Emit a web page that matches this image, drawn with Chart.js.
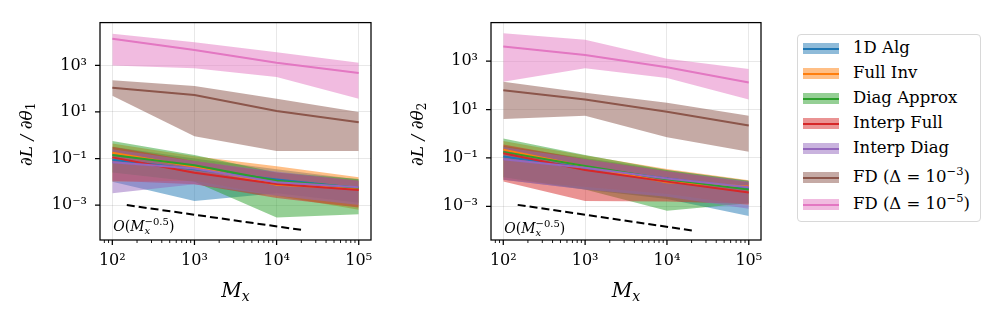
<!DOCTYPE html>
<html>
<head>
<meta charset="utf-8">
<script src="https://cdn.jsdelivr.net/npm/chart.js@4.4.1/dist/chart.umd.min.js"></script>
<style>
  body { margin: 0; background: #fff; font-family: 'DejaVu Serif', serif; }
  #wrap { position: relative; width: 996px; height: 319px; overflow: hidden; }
  .panel { position: absolute; top: 0; width: 380px; height: 319px; }
  #legend { position: absolute; left: 797px; top: 34px; width: 184px; height: 188px;
    border: 1px solid #d8d8d8; border-radius: 4px; box-sizing: border-box; }
  .row { position: absolute; left: 0; height: 26px; width: 180px; font-size: 16.5px; color: #000; }
  .patch { position: absolute; left: 5px; width: 36px; height: 11px; }
  .patch i { position: absolute; left: 0; right: 0; top: 4.5px; height: 2px; }
  .lab { position: absolute; left: 55px; white-space: nowrap; line-height: 18px; }
  .lab sup { font-size: 11.5px; vertical-align: 7px; line-height: 0; }
</style>
</head>
<body>
<div id="wrap">
  <div class="panel" style="left:0"><canvas id="c1"></canvas></div>
  <div class="panel" style="left:391px"><canvas id="c2"></canvas></div>
  <div id="legend"></div>
</div>
<script>
// sample sizes M_x
const mx = [1e2, 1e3, 1e4, 1e5];
const names = ['1D Alg', 'Full Inv', 'Diag Approx', 'Interp Full', 'Interp Diag',
  'FD (Δ = 10<sup>−3</sup>)', 'FD (Δ = 10<sup>−5</sup>)'];
const colors = ['#1f77b4', '#ff7f0e', '#2ca02c', '#d62728', '#9467bd', '#8c564b', '#e377c2'];

// dL/dtheta_1 : median line, lower and upper band (rows follow names)
const mean1 = [
  [0.089, 0.035, 0.0126, 0.0054],
  [0.178, 0.044, 0.0074, 0.005],
  [0.141, 0.051, 0.0112, 0.0056],
  [0.112, 0.0245, 0.0081, 0.0044],
  [0.069, 0.037, 0.0095, 0.0059],
  [110, 54, 11, 3.6],
  [14000, 4600, 1300, 470]
];
const lo1 = [
  [0.010, 0.0015, 0.0032, 0.00126],
  [0.010, 0.0112, 0.0025, 0.00063],
  [0.025, 0.010, 0.00029, 0.0004],
  [0.0112, 0.0079, 0.002, 0.00079],
  [0.0032, 0.0079, 0.0025, 0.001],
  [50, 0.9, 0.21, 0.21],
  [1000, 760, 320, 37]
];
const hi1 = [
  [0.32, 0.10, 0.035, 0.0126],
  [0.44, 0.126, 0.047, 0.0155],
  [0.56, 0.141, 0.025, 0.0132],
  [0.32, 0.079, 0.025, 0.0112],
  [0.25, 0.079, 0.028, 0.0112],
  [230, 130, 37, 10],
  [23000, 10000, 3700, 1300]
];

// dL/dtheta_2
const mean2 = [
  [0.115, 0.039, 0.0141, 0.0056],
  [0.22, 0.044, 0.010, 0.0066],
  [0.178, 0.046, 0.0132, 0.0049],
  [0.155, 0.032, 0.0105, 0.0037],
  [0.089, 0.039, 0.0141, 0.0062],
  [63, 26, 8.1, 2.2],
  [4000, 1800, 560, 130]
];
const lo2 = [
  [0.0126, 0.005, 0.002, 0.0004],
  [0.0126, 0.0063, 0.0032, 0.0011],
  [0.0158, 0.005, 0.00066, 0.00135],
  [0.0105, 0.00166, 0.00158, 0.00126],
  [0.0126, 0.005, 0.0025, 0.00079],
  [4.1, 5.5, 0.71, 0.18],
  [140, 510, 200, 26]
];
const hi2 = [
  [0.32, 0.10, 0.032, 0.0112],
  [0.50, 0.126, 0.035, 0.012],
  [0.63, 0.132, 0.032, 0.0115],
  [0.355, 0.089, 0.028, 0.010],
  [0.28, 0.089, 0.028, 0.0105],
  [140, 49, 19, 5.5],
  [14000, 7600, 1260, 470]
];

// O(M_x^-0.5) reference line
const guideX = [150, 21000];
const guide1 = [1.0e-3, 8.4e-5];
const guide2 = [1.15e-3, 9.9e-5];
const noteAt = [100, 1.32e-4];

// axes
const xRange = [70.8, 141000];
const yRange1 = [3.16e-5, 69000];
const yRange2 = [4.07e-5, 38900];
const xMajor = [1e2, 1e3, 1e4, 1e5];
const xTickLabels = ['10²', '10³', '10⁴', '10⁵'];
const xMinor = [80, 90, 200, 300, 400, 500, 600, 700, 800, 900,
  2000, 3000, 4000, 5000, 6000, 7000, 8000, 9000,
  20000, 30000, 40000, 50000, 60000, 70000, 80000, 90000];
const yMajor = [1e-3, 1e-1, 1e1, 1e3];
const yTickLabels = ['10⁻³', '10⁻¹', '10¹', '10³'];

function rgba(hex, a) {
  const n = parseInt(hex.slice(1), 16);
  return `rgba(${n >> 16},${(n >> 8) & 255},${n & 255},${a})`;
}
const pts = row => mx.map((x, j) => ({ x, y: row[j] }));

const frame = {
  id: 'frame',
  afterDraw(chart, args, opts) {
    const { ctx, chartArea: a, scales: { x, y } } = chart;
    ctx.save();
    ctx.strokeStyle = '#000';
    ctx.lineWidth = 1.25;
    ctx.strokeRect(a.left, a.top, a.right - a.left, a.bottom - a.top);
    ctx.beginPath();
    xMajor.forEach(v => { const p = x.getPixelForValue(v); ctx.moveTo(p, a.bottom); ctx.lineTo(p, a.bottom + 5); });
    yMajor.forEach(v => { const p = y.getPixelForValue(v); ctx.moveTo(a.left, p); ctx.lineTo(a.left - 5, p); });
    ctx.stroke();
    ctx.lineWidth = 0.9;
    ctx.beginPath();
    xMinor.forEach(v => { const p = x.getPixelForValue(v); ctx.moveTo(p, a.bottom); ctx.lineTo(p, a.bottom + 3); });
    ctx.stroke();

    ctx.fillStyle = '#000';
    ctx.textBaseline = 'alphabetic';
    // note
    let nx = x.getPixelForValue(noteAt[0]) + 1;
    const ny = y.getPixelForValue(noteAt[1]) + 5;
    const seg = (t, f, dy) => { ctx.font = f; ctx.fillText(t, nx, ny + dy); return ctx.measureText(t).width; };
    nx += seg('O', 'italic 14px "DejaVu Serif"', 0);
    nx += seg('(', '14px "DejaVu Serif"', 0);
    nx += seg('M', 'italic 14px "DejaVu Serif"', 0);
    const sx = nx;
    seg('x', 'italic 10px "DejaVu Serif"', 3);
    nx = sx + seg('−0.5', '10px "DejaVu Serif"', -6);
    seg(')', '14px "DejaVu Serif"', 0);

    // x title
    ctx.font = 'italic 20px "DejaVu Serif"';
    const mw = ctx.measureText('M').width;
    ctx.font = 'italic 14px "DejaVu Serif"';
    const xw = ctx.measureText('x').width;
    let tx = (a.left + a.right) / 2 - (mw + xw) / 2;
    ctx.font = 'italic 20px "DejaVu Serif"';
    ctx.fillText('M', tx, 297);
    ctx.font = 'italic 14px "DejaVu Serif"';
    ctx.fillText('x', tx + mw, 301);

    // y title
    ctx.translate(32, (a.top + a.bottom) / 2 + 3);
    ctx.rotate(-Math.PI / 2);
    ctx.font = 'italic 17px "DejaVu Serif"';
    const main = '∂L / ∂θ';
    const w1 = ctx.measureText(main).width;
    ctx.font = '12px "DejaVu Serif"';
    const w2 = ctx.measureText(opts.sub).width;
    ctx.font = 'italic 17px "DejaVu Serif"';
    ctx.fillText(main, -(w1 + w2) / 2, 0);
    ctx.font = '12px "DejaVu Serif"';
    ctx.fillText(opts.sub, -(w1 + w2) / 2 + w1, 3);
    ctx.restore();
  }
};

function makePanel(id, means, los, his, guide, yRange, sub, padRight) {
  const datasets = [{
    data: guideX.map((x, j) => ({ x, y: guide[j] })),
    borderColor: '#000', borderWidth: 2, borderDash: [8, 4], pointRadius: 0, fill: false
  }];
  for (let i = names.length - 1; i >= 0; i--) {
    datasets.push({ data: pts(his[i]), borderColor: 'transparent', borderWidth: 0, pointRadius: 0, fill: false });
    datasets.push({ data: pts(los[i]), borderColor: 'transparent', borderWidth: 0, pointRadius: 0,
      fill: '-1', backgroundColor: rgba(colors[i], 0.5) });
    datasets.push({ data: pts(means[i]), borderColor: colors[i], borderWidth: 2, pointRadius: 0, fill: false });
  }
  const gridColor = c => (c.tick && c.tick.major) ? 'rgba(0,0,0,0.09)' : 'rgba(0,0,0,0)';
  return new Chart(document.getElementById(id), {
    type: 'line',
    data: { datasets },
    options: {
      responsive: true, maintainAspectRatio: false, animation: false,
      layout: { padding: { left: 0, right: padRight, top: 14, bottom: 0 } },
      plugins: { legend: { display: false }, tooltip: { enabled: false },
        filler: { drawTime: 'beforeDatasetsDraw' }, frame: { sub } },
      elements: { line: { tension: 0 } },
      scales: {
        x: {
          type: 'logarithmic', min: xRange[0], max: xRange[1], bounds: 'data',
          afterBuildTicks: s => { s.ticks = xMajor.map(v => ({ value: v, major: true }))
            .concat(xMinor.map(v => ({ value: v, major: false }))); },
          afterFit: s => { s.height = 79; },
          grid: { color: gridColor, lineWidth: 1, drawTicks: false },
          border: { display: false },
          ticks: { autoSkip: false, maxRotation: 0, minRotation: 0, padding: 11, color: '#000',
            font: { family: 'DejaVu Serif', size: 16 },
            callback: v => { const k = xMajor.indexOf(v); return k >= 0 ? xTickLabels[k] : ''; } }
        },
        y: {
          type: 'logarithmic', min: yRange[0], max: yRange[1], bounds: 'data',
          afterBuildTicks: s => { s.ticks = yMajor.map(v => ({ value: v, major: true })); },
          afterFit: s => { s.width = 100; },
          grid: { color: gridColor, lineWidth: 1, drawTicks: false },
          border: { display: false },
          ticks: { autoSkip: false, padding: 13, color: '#000',
            font: { family: 'DejaVu Serif', size: 16 },
            callback: v => { const k = yMajor.indexOf(v); return k >= 0 ? yTickLabels[k] : ''; } }
        }
      }
    },
    plugins: [frame]
  });
}

makePanel('c1', mean1, lo1, hi1, guide1, yRange1, '1', 9);
makePanel('c2', mean2, lo2, hi2, guide2, yRange2, '2', 10);

// legend
const tops = [0, 25, 50, 75, 100, 128, 155];
document.getElementById('legend').innerHTML = names.map((n, i) =>
  `<div class="row" style="top:${tops[i]}px">
     <div class="patch" style="top:${8 + (i > 4 ? 1 : 0)}px;background:${rgba(colors[i], 0.5)}"><i style="background:${colors[i]}"></i></div>
     <div class="lab" style="top:${4 + (i > 4 ? 1 : 0)}px">${n}</div>
   </div>`).join('');
</script>
</body>
</html>
